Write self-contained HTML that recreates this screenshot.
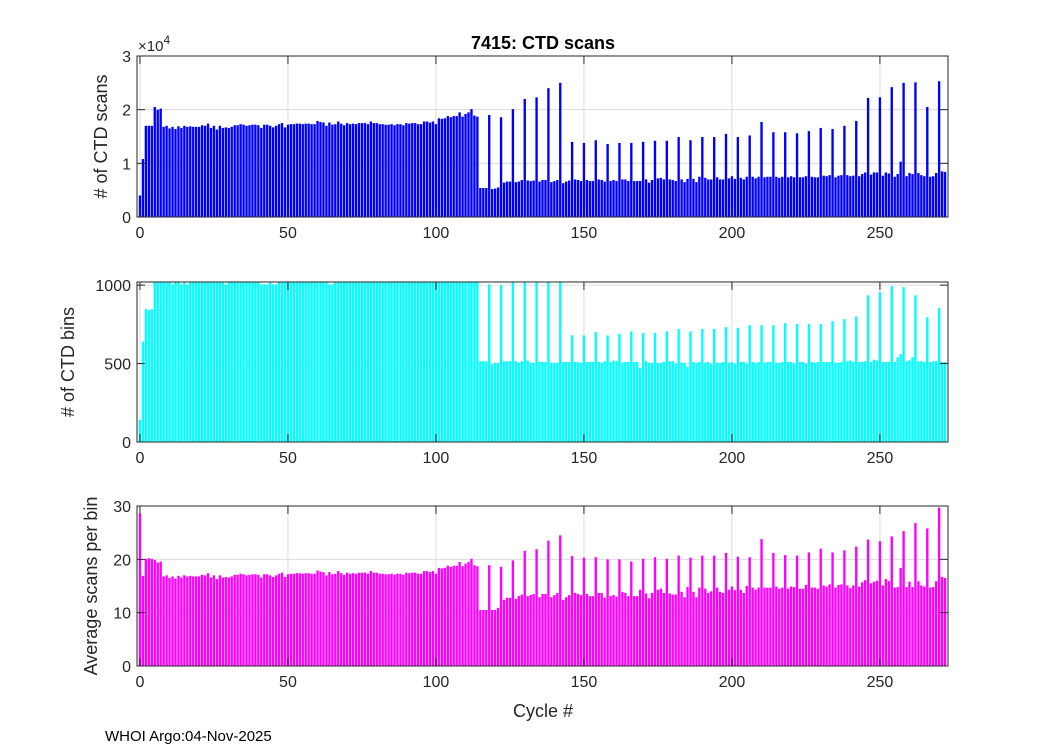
<!DOCTYPE html>
<html><head><meta charset="utf-8"><style>
html,body{margin:0;padding:0;background:#fff;}
svg{display:block;font-family:"Liberation Sans",sans-serif;}
</style></head><body>
<svg id="chart" width="1050" height="750" viewBox="0 0 1050 750">
<rect width="1050" height="750" fill="#fff"/>
<text x="543" y="49" text-anchor="middle" font-size="18" font-weight="bold" fill="#000">7415: CTD scans</text>
<text x="543" y="717" text-anchor="middle" font-size="18" fill="#262626">Cycle #</text>
<text x="105" y="741" font-size="15" fill="#000">WHOI Argo:04-Nov-2025</text>
</svg>
<script>
const cycles = Array.from({length:273},(_,i)=>i);
const scans = [
4000,10800,17000,17000,17000,20500,20000,20200,16800,17000,
16500,16800,16400,16900,16600,17000,16800,16900,16800,16800,
16800,17100,17000,17400,16600,17000,16300,17000,16600,16700,
16600,16800,17100,17100,17300,17200,17000,17100,17200,17200,
17100,16600,17200,17200,17000,16700,17000,17300,17500,16700,
17200,17300,17300,17400,17400,17300,17400,17400,17300,17300,
17900,17700,17600,17000,17600,17200,17300,17800,17400,17100,
17500,17300,17400,17300,17500,17500,17500,17300,17800,17500,
17500,17300,17300,17200,17200,17300,17100,17300,17300,17100,
17500,17400,17500,17500,17300,17300,17800,17800,17600,17800,
17300,18400,18300,18400,18800,18600,18800,18800,19500,18700,
19200,19500,20100,18900,18700,5400,5400,5400,19000,5200,
5300,5500,18600,6400,6600,6600,20100,6500,6600,6900,
22000,6800,6700,6800,22300,6600,6900,6900,24000,6500,
6700,6900,25000,6300,6600,6800,14000,7000,6900,6700,
13800,6900,6700,6700,14300,7000,6900,6600,13600,6700,
6900,6700,13800,7000,7000,6700,13800,6700,6700,6700,
14000,7000,6400,6900,14200,7200,7300,7000,14200,7000,
6900,6700,14900,7000,6500,7100,14300,7100,6500,7500,
14900,7300,7000,7000,14900,7400,7000,7000,15500,7200,
7600,7100,14900,7300,7000,7500,15200,7500,7200,7500,
17700,7400,7500,7500,15800,7500,7300,7500,15800,7400,
7600,7400,15600,7400,7400,7600,16000,7500,7400,7400,
16600,7700,7600,7800,16400,7400,7700,7800,17000,7800,
7600,7700,17900,7600,8000,8300,22200,7900,8300,8300,
22300,7700,8300,8100,24200,7500,8000,10300,25000,7600,
8200,8000,25100,8200,7800,7600,20500,7500,7600,8200,
25300,8500,8400];
const bins = [
140,640,847,840,847,1030,1030,1030,1030,1030,
1030,1005,1030,1030,1005,1030,1005,1030,1030,1030,
1030,1030,1030,1030,1030,1030,1030,1030,1030,1005,
1030,1030,1030,1030,1030,1030,1030,1030,1030,1030,
1030,1005,1005,1005,1030,1005,1005,1030,1030,1030,
1030,1030,1030,1030,1030,1030,1030,1030,1030,1030,
1030,1030,1030,1030,1005,1005,1030,1030,1030,1030,
1030,1030,1030,1030,1030,1030,1030,1030,1030,1030,
1030,1030,1030,1030,1030,1030,1030,1030,1030,1030,
1030,1030,1030,1030,1030,1030,1030,1030,1030,1030,
1030,1030,1030,1030,1030,1030,1030,1030,1030,1030,
1030,1030,1030,1030,1030,515,515,515,1005,495,
505,505,1000,515,515,515,1030,515,505,515,
1030,520,505,505,1030,510,510,510,1030,505,
505,505,1030,510,510,510,680,510,510,505,
680,510,510,510,700,510,505,515,680,510,
520,515,690,505,510,510,705,510,510,470,
695,515,505,505,695,505,505,510,705,515,
515,500,720,505,505,480,705,510,505,510,
720,505,510,500,720,505,505,510,732,505,
510,500,728,510,510,500,745,510,505,510,
745,505,510,510,745,505,505,510,758,510,
510,500,752,510,510,500,752,510,505,510,
752,510,510,510,770,505,505,510,783,515,
520,510,800,510,510,515,935,510,525,520,
955,510,510,510,994,510,540,560,987,515,
520,540,935,515,515,510,795,510,515,515,
853,510,510];
const avgScans = [
28.6,16.9,20.1,20.2,20.1,19.9,19.4,19.6,16.8,17.0,
16.5,16.8,16.4,16.9,16.6,17.0,16.8,16.9,16.8,16.8,
16.8,17.1,17.0,17.4,16.6,17.0,16.3,17.0,16.6,16.7,
16.6,16.8,17.1,17.1,17.3,17.2,17.0,17.1,17.2,17.2,
17.1,16.6,17.2,17.2,17.0,16.7,17.0,17.3,17.5,16.7,
17.2,17.3,17.3,17.4,17.4,17.3,17.4,17.4,17.3,17.3,
17.9,17.7,17.6,17.0,17.6,17.2,17.3,17.8,17.4,17.1,
17.5,17.3,17.4,17.3,17.5,17.5,17.5,17.3,17.8,17.5,
17.5,17.3,17.3,17.2,17.2,17.3,17.1,17.3,17.3,17.1,
17.5,17.4,17.5,17.5,17.3,17.3,17.8,17.8,17.6,17.8,
17.3,18.4,18.3,18.4,18.8,18.6,18.8,18.8,19.5,18.7,
19.2,19.5,20.1,18.9,18.7,10.5,10.5,10.5,18.9,10.5,
10.5,10.9,18.6,12.4,12.8,12.8,19.8,12.6,13.1,13.4,
21.6,13.1,13.3,13.5,21.9,12.9,13.5,13.5,23.5,12.9,
13.3,13.7,24.5,12.4,12.9,13.3,20.6,13.7,13.5,13.3,
20.3,13.5,13.1,13.1,20.4,13.7,13.7,12.8,20.0,13.1,
13.3,13.0,20.0,13.9,13.7,13.1,19.6,13.1,13.1,14.3,
20.1,13.6,12.7,13.7,20.4,14.3,14.5,13.7,20.1,13.6,
13.4,13.4,20.7,13.9,12.9,14.8,20.3,13.9,12.9,14.7,
20.7,14.5,13.7,14.0,20.7,14.7,13.9,13.7,21.2,14.3,
14.9,14.2,20.5,14.3,13.7,15.0,20.4,14.7,14.3,14.7,
23.8,14.7,14.7,14.7,21.2,14.9,14.5,14.7,20.8,14.5,
14.9,14.8,20.7,14.5,14.5,15.2,21.3,14.7,14.7,14.5,
22.0,15.1,14.9,15.3,21.3,14.7,15.2,15.3,21.7,15.1,
14.6,15.1,22.4,14.9,15.7,16.1,23.7,15.5,15.8,16.0,
23.4,15.1,16.3,15.9,24.3,14.7,14.8,18.4,25.3,14.8,
15.8,14.8,26.8,15.9,15.1,14.9,25.8,14.7,14.8,15.9,
29.7,16.7,16.5];
const xTicks = [0,50,100,150,200,250];
const scanTicks = [0,10000,20000,30000];
const scanTickLabels = ["0","1","2","3"];
const binTicks = [0,500,1000];
const binTickLabels = ["0","500","1000"];
const avgTicks = [0,10,20,30];
const avgTickLabels = ["0","10","20","30"];

const NS="http://www.w3.org/2000/svg";
const svg=document.getElementById('chart');
const X0=137,X1=948,XMIN=-1,XMAX=273;
function sx(v){return X0+(v-XMIN)/(XMAX-XMIN)*(X1-X0);}
function mk(tag,attrs,parent){const e=document.createElementNS(NS,tag);for(const k in attrs)e.setAttribute(k,attrs[k]);(parent||svg).appendChild(e);return e;}

function panel(name,top,bot,ymax,vals,color,yt,ytl,ylabel,ylx){
  const g=mk('g',{});
  
  
  function sy(v){return bot-(v/ymax)*(bot-top);}
  const bg=mk('rect',{x:X0,y:top,width:X1-X0,height:bot-top,fill:'#fff'},g);
  
  
  xTicks.forEach(t=>{const l=mk('line',{x1:sx(t),x2:sx(t),y1:top,y2:bot,stroke:'#dcdcdc','stroke-width':1},g);
    
    });
  yt.forEach(t=>{const l=mk('line',{x1:X0,x2:X1,y1:sy(t),y2:sy(t),stroke:'#dcdcdc','stroke-width':1},g);
    
    });
  const cid='clip-'+name;
  const cp=mk('clipPath',{id:cid},g);mk('rect',{x:X0,y:top,width:X1-X0,height:bot-top},cp);
  const bars=mk('g',{'clip-path':'url(#'+cid+')'},g);
  
  
  const w=0.8*(sx(1)-sx(0));
  cycles.forEach((c,i)=>{const v=vals[i];const y=sy(v);
    const r=mk('rect',{x:sx(c)-w/2,y:y,width:w,height:bot-y,fill:color},bars);
    
    });
  const box=mk('rect',{x:X0,y:top,width:X1-X0,height:bot-top,fill:'none',stroke:'#262626','stroke-width':1},g);
  
  
  xTicks.forEach(t=>{
    mk('line',{x1:sx(t),x2:sx(t),y1:bot,y2:bot-8,stroke:'#262626'},g);
    mk('line',{x1:sx(t),x2:sx(t),y1:top,y2:top+8,stroke:'#262626'},g);
    const tx=mk('text',{x:sx(t),y:bot+21,'text-anchor':'middle','font-size':16,fill:'#262626'},g);
    tx.textContent=String(t);
    
    });
  yt.forEach((t,i)=>{
    mk('line',{x1:X0,x2:X0+8,y1:sy(t),y2:sy(t),stroke:'#262626'},g);
    mk('line',{x1:X1,x2:X1-8,y1:sy(t),y2:sy(t),stroke:'#262626'},g);
    const tx=mk('text',{x:X0-6,y:sy(t)+6,'text-anchor':'end','font-size':16,fill:'#262626'},g);
    tx.textContent=ytl[i];
    
    });
  const yl=mk('text',{x:ylx,y:(top+bot)/2,'text-anchor':'middle','font-size':18,fill:'#262626',transform:'rotate(-90 '+ylx+' '+((top+bot)/2)+')'},g);
  yl.textContent=ylabel;
  
  
}
panel('scans',56,217,30000,scans,'#0000ff',scanTicks,scanTickLabels,'# of CTD scans',107);
panel('bins',282,442,1020,bins,'#00ffff',binTicks,binTickLabels,'# of CTD bins',74);
panel('avg',506,666,30,avgScans,'#ff00ff',avgTicks,avgTickLabels,'Average scans per bin',97);
const ex=mk('text',{x:138,y:51,'font-size':15,fill:'#262626'});
ex.innerHTML='×10<tspan dy="-7" font-size="12">4</tspan>';


</script>
</body></html>
